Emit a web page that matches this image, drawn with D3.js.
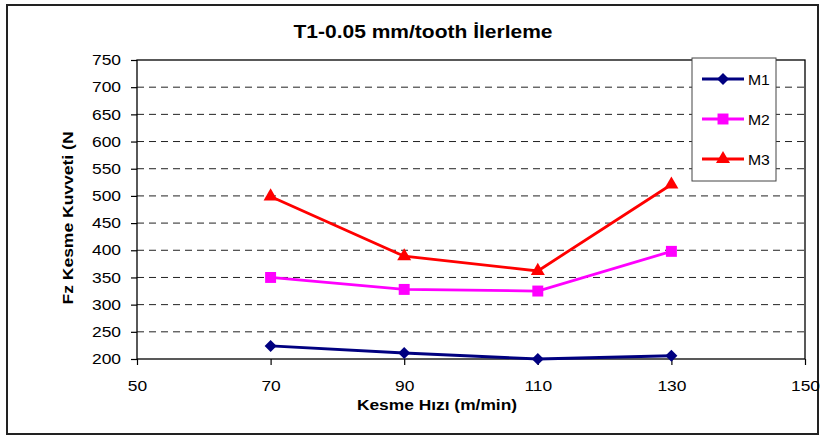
<!DOCTYPE html>
<html>
<head>
<meta charset="utf-8">
<script src="https://cdn.jsdelivr.net/npm/d3@7"></script>
<style>
  body { margin: 0; background: #fff; }
  text { font-family: "Liberation Sans", Arial, sans-serif; fill: #000; }
</style>
</head>
<body>
<div id="chart"></div>
<script>
// chart data
let speeds = [70, 90, 110, 130];
let m1 = [224, 211, 200, 206];
let m2 = [350, 328, 325, 398];
let m3 = [499, 389, 362, 521];
let seriesNames = ['M1', 'M2', 'M3'];
let xTicks = [50, 70, 90, 110, 130, 150];
let yTicks = [200, 250, 300, 350, 400, 450, 500, 550, 600, 650, 700, 750];

let svgWidth = 821;
let svgHeight = 439;

// plot area in pixels
let plot = { left: 137, top: 60, right: 805, bottom: 359 };

let svg = d3.select('#chart')
            .append('svg')
            .attr('width', svgWidth)
            .attr('height', svgHeight);

// widen text along its reading direction, Excel fonts render wider than Arial
function stretch(sel, k) {
    sel.each(function() {
        let w = this.getComputedTextLength();
        d3.select(this).attr('textLength', w * k).attr('lengthAdjust', 'spacingAndGlyphs');
    });
}

// outer frame
svg.append('rect')
   .attr('x', 7).attr('y', 5)
   .attr('width', 811).attr('height', 429)
   .attr('fill', '#fff')
   .attr('stroke', '#222')
   .attr('stroke-width', 2);

let xScale = d3.scaleLinear().domain([50, 150]).range([plot.left, plot.right]);
let yScale = d3.scaleLinear().domain([200, 750]).range([plot.bottom, plot.top]);

// dashed gridlines
svg.append('g')
   .selectAll('line')
   .data(yTicks.filter(d => d > 200 && d < 750))
   .enter()
   .append('line')
   .attr('x1', plot.left).attr('x2', plot.right)
   .attr('y1', d => yScale(d)).attr('y2', d => yScale(d))
   .attr('stroke', '#222')
   .attr('stroke-width', 1)
   .attr('stroke-dasharray', '7,5');

// plot border
svg.append('rect')
   .attr('x', plot.left).attr('y', plot.top)
   .attr('width', plot.right - plot.left).attr('height', plot.bottom - plot.top)
   .attr('fill', 'none')
   .attr('stroke', '#000')
   .attr('stroke-width', 1.3);

// axes
let yAxis = svg.append('g')
   .attr('transform', `translate(${plot.left},0)`)
   .call(d3.axisLeft(yScale).tickValues(yTicks).tickSize(6).tickPadding(10).tickSizeOuter(0));
let xAxis = svg.append('g')
   .attr('transform', `translate(0,${plot.bottom})`)
   .call(d3.axisBottom(xScale).tickValues(xTicks).tickSize(6).tickPadding(16).tickSizeOuter(0));

[xAxis, yAxis].forEach(ax => {
    ax.select('.domain').remove();
    ax.selectAll('line').attr('stroke', '#000').attr('stroke-width', 1.2);
    ax.selectAll('text').style('font-size', '14.5px').attr('fill', '#000');
    stretch(ax.selectAll('text'), 1.2);
});

// series
let series = [
    { name: seriesNames[0], values: m1, color: '#000080', symbol: d3.symbolSquare, size: 72, rotate: 45 },
    { name: seriesNames[1], values: m2, color: '#FF00FF', symbol: d3.symbolSquare, size: 120, rotate: 0 },
    { name: seriesNames[2], values: m3, color: '#FF0000', symbol: d3.symbolTriangle, size: 85, rotate: 0 }
];

let line = d3.line()
             .x((d, i) => xScale(speeds[i]))
             .y(d => yScale(d));

series.forEach(s => {
    svg.append('path')
       .datum(s.values)
       .attr('d', line)
       .attr('fill', 'none')
       .attr('stroke', s.color)
       .attr('stroke-width', 2.8);

    svg.append('g')
       .selectAll('path')
       .data(s.values)
       .enter()
       .append('path')
       .attr('d', d3.symbol().type(s.symbol).size(s.size))
       .attr('transform', (d, i) => `translate(${xScale(speeds[i])},${yScale(d)}) rotate(${s.rotate})`)
       .attr('fill', s.color);
});

// legend
let legend = svg.append('g').attr('transform', 'translate(692,58)');
legend.append('rect')
      .attr('width', 84).attr('height', 123)
      .attr('fill', '#fff')
      .attr('stroke', '#444')
      .attr('stroke-width', 1);

series.forEach((s, i) => {
    let ly = 21 + i * 40;
    legend.append('line')
          .attr('x1', 10).attr('x2', 52)
          .attr('y1', ly).attr('y2', ly)
          .attr('stroke', s.color)
          .attr('stroke-width', 2.8);
    legend.append('path')
          .attr('d', d3.symbol().type(s.symbol).size(s.size))
          .attr('transform', `translate(31,${ly}) rotate(${s.rotate})`)
          .attr('fill', s.color);
    let t = legend.append('text')
          .attr('x', 56).attr('y', ly + 5.5)
          .style('font-size', '15px')
          .text(s.name);
    stretch(t, 1.05);
});

// titles
let title = svg.append('text')
   .attr('x', 423).attr('y', 37.5)
   .attr('text-anchor', 'middle')
   .style('font-size', '17.5px')
   .style('font-weight', 'bold')
   .text('T1-0.05 mm/tooth İlerleme');
stretch(title, 1.2);

let xLabel = svg.append('text')
   .attr('x', 437).attr('y', 410)
   .attr('text-anchor', 'middle')
   .style('font-size', '14px')
   .style('font-weight', 'bold')
   .text('Kesme Hızı (m/min)');
stretch(xLabel, 1.24);

let yLabel = svg.append('text')
   .attr('transform', 'translate(73,218) rotate(-90)')
   .attr('text-anchor', 'middle')
   .style('font-size', '14px')
   .style('font-weight', 'bold')
   .text('Fz Kesme Kuvveti (N');
stretch(yLabel, 1.25);
</script>
</body>
</html>
